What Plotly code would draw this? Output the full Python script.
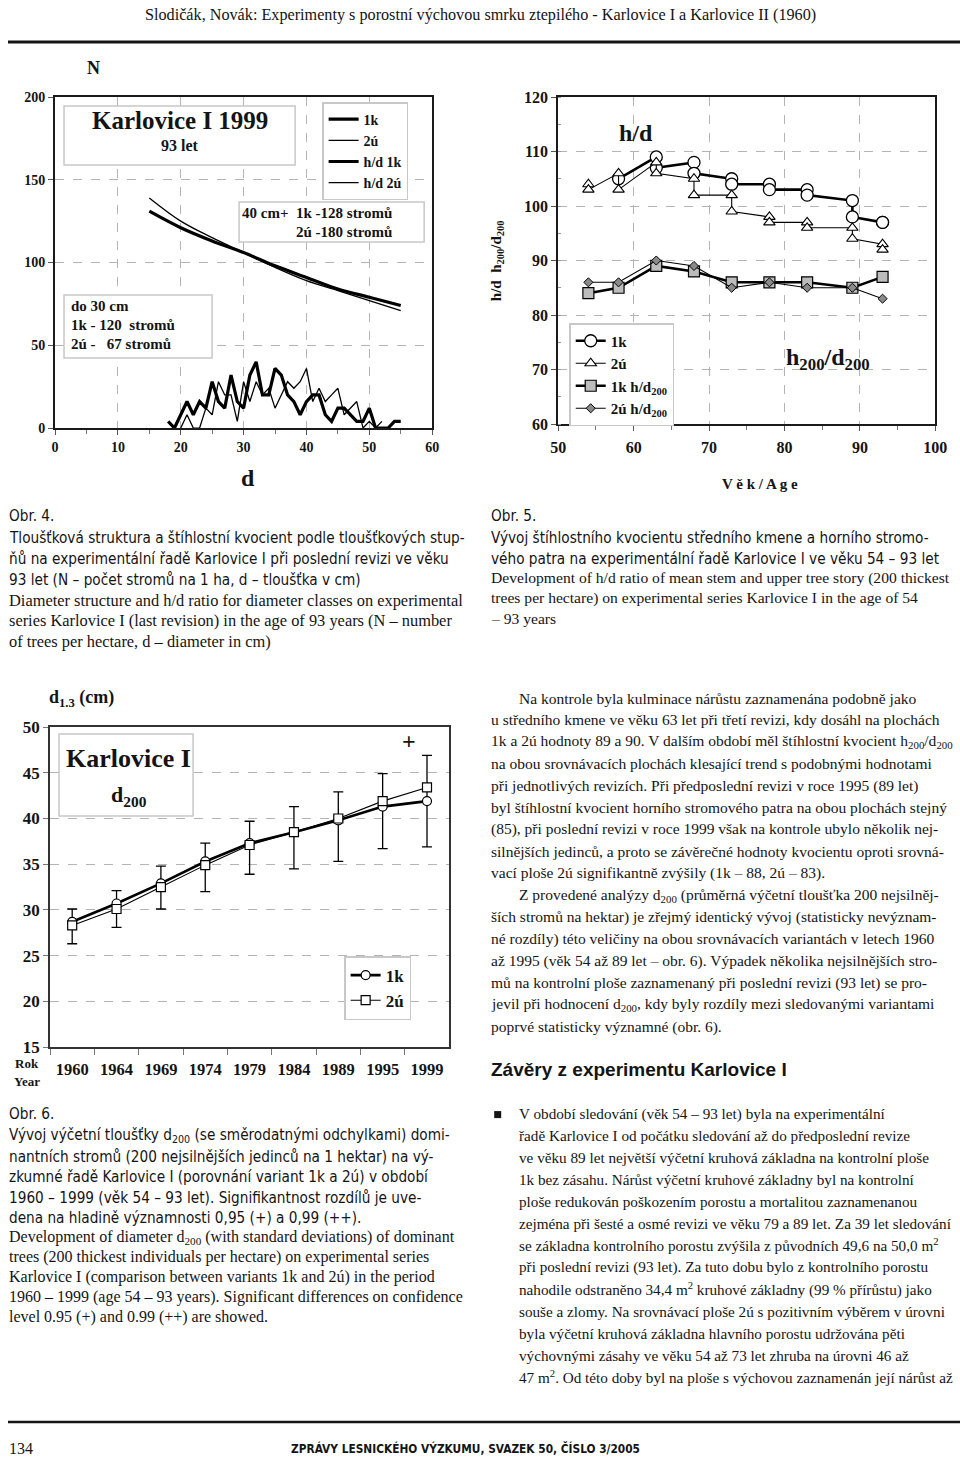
import plotly.graph_objects as go

# ---------------- DATA ----------------
# Chart 1 (Obr. 4): diameter distribution N and h/d curve, Karlovice I 1999
d_1k = list(range(18, 56))
n_1k = [4, 0, 8, 16, 8, 16, 12, 28, 16, 12, 32, 16, 12, 32, 40, 20, 20, 36, 32, 20,
        16, 8, 16, 20, 20, 8, 4, 12, 12, 8, 4, 4, 12, 0, 0, 0, 4, 4]
d_2u = list(range(20, 53))
n_2u = [0, 8, 0, 0, 12, 8, 28, 20, 20, 4, 28, 16, 28, 20, 24, 12, 20, 28, 24, 28,
        36, 16, 24, 16, 20, 24, 8, 12, 16, 0, 4, 0, 4]
d_hd = [15, 20, 25, 30, 35, 40, 45, 50, 55]
hd_1k = [131, 121, 113, 106, 98, 91, 84, 79, 74]
hd_2u = [139, 125, 115, 106, 97, 89, 83, 77, 71]

# Chart 2 (Obr. 5): h/d and h200/d200 by age
age_1k = [58, 63, 63, 68, 68, 73, 73, 78, 78, 83, 83, 89, 89, 93, 93]
hd_age_1k = [105, 109, 107, 108, 106, 105, 104, 104, 103, 103, 102, 101, 98, 97, 97]
age_2u = [54, 54, 58, 58, 63, 63, 68, 68, 73, 73, 78, 78, 83, 83, 89, 89, 93, 93]
hd_age_2u = [104, 103, 106, 103, 108, 106, 105, 102, 102, 99, 98, 97, 97, 96, 96, 94, 93, 92]
age_200 = [54, 58, 63, 68, 73, 78, 83, 89, 93]
hd200_1k = [84, 85, 89, 88, 86, 86, 86, 85, 87]
hd200_2u = [86, 86, 90, 89, 85, 86, 85, 85, 83]

# Chart 3 (Obr. 6): d200 development with standard deviations
years = ["1960", "1964", "1969", "1974", "1979", "1984", "1989", "1995", "1999"]
d200_1k = [28.7, 30.7, 32.9, 35.3, 37.3, 38.5, 39.8, 41.3, 41.9]
d200_2u = [28.3, 30.1, 32.5, 34.9, 37.1, 38.5, 40.0, 41.9, 43.4]
sd_top = [30.1, 32.1, 34.8, 37.3, 39.7, 41.3, 42.9, 44.9, 46.9]
sd_bottom = [26.3, 28.1, 30.1, 32.0, 33.9, 34.5, 35.3, 36.7, 36.9]

# ---------------- HELPERS ----------------
# The photographed page is offset by ~8 px and slightly reduced; target page
# pixel positions are mapped back to figure pixels here.
W, H = 970, 1470
OX, OY, SX, SY = 8, 8, 0.979, 0.987
SERIF = "Liberation Serif, Times New Roman, serif"
NARROW = "Liberation Sans Narrow, Arial Narrow, DejaVu Sans Condensed, Liberation Sans, sans-serif"
SANS = "Liberation Sans, Arial, sans-serif"
INK = "#141414"


def px(x):
    return max((x - OX) / SX, 0) / W


def py(y):
    return 1 - ((y - OY) / SY) / H


fig = go.Figure()


def txt(x, y, s, size, family=SERIF, bold=False, anchor="left", angle=0, color=INK):
    fig.add_annotation(x=px(x), y=py(y), xref="paper", yref="paper", text=s,
                       showarrow=False, xanchor=anchor, yanchor="middle",
                       textangle=angle, borderpad=0,
                       font=dict(family=family, size=size, color=color,
                                 weight="bold" if bold else "normal"))


def box(x0, y0, x1, y1, color="#c8c8c8", width=1.5):
    fig.add_shape(type="rect", xref="paper", yref="paper", x0=px(x0), x1=px(x1),
                  y0=py(y1), y1=py(y0), line=dict(color=color, width=width),
                  fillcolor="white", layer="above")


def hline(x0, x1, y, width):
    fig.add_shape(type="line", xref="paper", yref="paper", x0=px(x0), x1=px(x1),
                  y0=py(y), y1=py(y), line=dict(color=INK, width=width))


# ---------------- CHART 1 ----------------
fig.add_trace(go.Scatter(x=d_1k, y=n_1k, mode="lines", name="1k", legend="legend",
                         line=dict(color="black", width=3.2), xaxis="x", yaxis="y"))
fig.add_trace(go.Scatter(x=d_2u, y=n_2u, mode="lines", name="2ú", legend="legend",
                         line=dict(color="black", width=1.3), xaxis="x", yaxis="y"))
fig.add_trace(go.Scatter(x=d_hd, y=hd_1k, mode="lines", name="h/d 1k", legend="legend",
                         line=dict(color="black", width=3.2, shape="spline"),
                         xaxis="x", yaxis="y"))
fig.add_trace(go.Scatter(x=d_hd, y=hd_2u, mode="lines", name="h/d 2ú", legend="legend",
                         line=dict(color="black", width=1.3, shape="spline"),
                         xaxis="x", yaxis="y"))

# ---------------- CHART 2 ----------------
fig.add_trace(go.Scatter(x=age_1k, y=hd_age_1k, mode="lines+markers", name="1k",
                         legend="legend2", xaxis="x2", yaxis="y2",
                         line=dict(color="black", width=2.6),
                         marker=dict(symbol="circle", size=12, color="white",
                                     line=dict(color="black", width=1.3))))
fig.add_trace(go.Scatter(x=age_2u, y=hd_age_2u, mode="lines+markers", name="2ú",
                         legend="legend2", xaxis="x2", yaxis="y2",
                         line=dict(color="black", width=1.1),
                         marker=dict(symbol="triangle-up", size=10, color="white",
                                     line=dict(color="black", width=1.1))))
fig.add_trace(go.Scatter(x=age_200, y=hd200_1k, mode="lines+markers",
                         name="1k h/d<sub>200</sub>", legend="legend2",
                         xaxis="x2", yaxis="y2",
                         line=dict(color="black", width=2.6),
                         marker=dict(symbol="square", size=11, color="#bcbcbc",
                                     line=dict(color="black", width=1.2))))
fig.add_trace(go.Scatter(x=age_200, y=hd200_2u, mode="lines+markers",
                         name="2ú h/d<sub>200</sub>", legend="legend2",
                         xaxis="x2", yaxis="y2",
                         line=dict(color="black", width=1.1),
                         marker=dict(symbol="diamond", size=7, color="#8a8a8a",
                                     line=dict(color="black", width=1))))

# ---------------- CHART 3 ----------------
err_plus = [round(t - v, 2) for t, v in zip(sd_top, d200_1k)]
err_minus = [round(v - b, 2) for v, b in zip(d200_1k, sd_bottom)]
fig.add_trace(go.Scatter(x=years, y=d200_1k, mode="lines+markers", name="1k",
                         legend="legend3", xaxis="x3", yaxis="y3",
                         line=dict(color="black", width=2.6),
                         marker=dict(symbol="circle", size=9, color="white",
                                     line=dict(color="black", width=1.2)),
                         error_y=dict(type="data", symmetric=False, array=err_plus,
                                      arrayminus=err_minus, color="black",
                                      thickness=1.3, width=5)))
fig.add_trace(go.Scatter(x=years, y=d200_2u, mode="lines+markers", name="2ú",
                         legend="legend3", xaxis="x3", yaxis="y3",
                         line=dict(color="black", width=1.1),
                         marker=dict(symbol="square", size=9, color="white",
                                     line=dict(color="black", width=1.2))))

# ---------------- AXES ----------------
grid = dict(showgrid=True, gridcolor="#b4b4b4", griddash="dash", gridwidth=1)
frame = dict(showline=True, mirror=True, linecolor="#1a1a1a", linewidth=2,
             zeroline=False, ticks="outside", ticklen=5, tickcolor="#555")

fig.update_layout(
    xaxis=dict(domain=[px(55), px(432)], anchor="y", range=[0, 60], dtick=10,
               tickfont=dict(family=SERIF, size=14, weight="bold", color=INK),
               minor=dict(dtick=5, ticks="outside", ticklen=4, tickcolor="#777"),
               **grid, **frame),
    yaxis=dict(domain=[py(427), py(96)], anchor="x", range=[0, 200], dtick=50,
               tickfont=dict(family=SERIF, size=14, weight="bold", color=INK),
               **grid, **frame),
    xaxis2=dict(domain=[px(558), px(935)], anchor="y2", range=[50, 100], dtick=10,
                tickfont=dict(family=SERIF, size=16, weight="bold", color=INK),
                minor=dict(dtick=5, ticks="outside", ticklen=4, tickcolor="#777"),
                ticklabelstandoff=3, **grid, **frame),
    yaxis2=dict(domain=[py(423), py(96)], anchor="x2", range=[60, 120], dtick=10,
                tickfont=dict(family=SERIF, size=16, weight="bold", color=INK),
                minor=dict(dtick=5, ticks="inside", ticklen=3, tickcolor="#999"),
                **grid, **frame),
    xaxis3=dict(domain=[px(50), px(449)], anchor="y3", type="category",
                range=[-0.5, 8.5], tickson="boundaries", showgrid=False,
                showline=True, mirror=True, linecolor="#333", linewidth=1.6,
                ticks="outside", ticklen=6, tickcolor="#777", tickangle=0,
                ticklabelstandoff=6,
                tickfont=dict(family=SERIF, size=16.5, weight="bold", color=INK)),
    yaxis3=dict(domain=[py(1046), py(726)], anchor="x3", range=[15, 50], dtick=5,
                showgrid=True, gridcolor="#b4b4b4", griddash="dash",
                showline=True, mirror=True, linecolor="#333", linewidth=1.6,
                zeroline=False, ticks="outside", ticklen=5, tickcolor="#777",
                tickfont=dict(family=SERIF, size=17, weight="bold", color=INK)),
    legend=dict(x=px(322), y=py(101), xanchor="left", yanchor="top",
                bgcolor="white", bordercolor="#c8c8c8", borderwidth=1.5,
                font=dict(family=SERIF, size=14, weight="bold", color=INK),
                itemwidth=30),
    legend2=dict(x=px(569), y=py(322), xanchor="left", yanchor="top",
                 bgcolor="white", bordercolor="#c8c8c8", borderwidth=1.5,
                 font=dict(family=SERIF, size=15, weight="bold", color=INK)),
    legend3=dict(x=px(344), y=py(955), xanchor="left", yanchor="top",
                 bgcolor="white", bordercolor="#c8c8c8", borderwidth=1.5,
                 font=dict(family=SERIF, size=17, weight="bold", color=INK)),
    width=W, height=H, margin=dict(l=0, r=0, t=0, b=0),
    paper_bgcolor="white", plot_bgcolor="white", showlegend=True,
)

# ---------------- CHART DECORATIONS ----------------
# Chart 1
box(64, 105, 295, 164)
txt(180, 119, "Karlovice I 1999", 25, bold=True, anchor="center")
txt(180, 144, "93 let", 16, bold=True, anchor="center")
box(239, 201, 424, 241)
txt(241, 212, "40 cm+&nbsp;&nbsp;1k -128 stromů", 15, bold=True)
txt(295, 231, "2ú -180 stromů", 15, bold=True)
box(64, 294, 212, 357)
txt(70, 305, "do 30 cm", 15, bold=True)
txt(70, 324, "1k - 120&nbsp;&nbsp;stromů", 15, bold=True)
txt(70, 343, "2ú -&nbsp;&nbsp;&nbsp;67 stromů", 15, bold=True)
txt(93, 67, "N", 18, bold=True, anchor="center")
txt(248, 477, "d", 24, bold=True, anchor="center")

# Chart 2
txt(636, 132, "h/d", 24, bold=True, anchor="center")
txt(828, 358, "h<sub>200</sub>/d<sub>200</sub>", 24, bold=True, anchor="center")
txt(497, 260, "h/d&nbsp;&nbsp;h<sub>200</sub>/d<sub>200</sub>", 15, bold=True,
    anchor="center", angle=-90)
txt(760, 483, "V ě k / A g e", 15, bold=True, anchor="center")

# Chart 3
box(59, 733, 193, 815)
txt(128, 757, "Karlovice I", 26, bold=True, anchor="center")
txt(129, 795, "d<sub>200</sub>", 22, bold=True, anchor="center")
txt(409, 740, "+", 24, bold=True, anchor="center")
txt(48, 697, "d<sub>1.3</sub> (cm)", 18, bold=True)
txt(27, 1062, "Rok", 13, bold=True, anchor="center")
txt(27, 1080, "Year", 13, bold=True, anchor="center")

# ---------------- PAGE TEXT ----------------
txt(480, 14, "Slodičák, Novák: Experimenty s porostní výchovou smrku ztepilého - "
    "Karlovice I a Karlovice II (1960)", 16.2, anchor="center")
hline(0, 965, 41, 3)
hline(0, 965, 1421, 2.5)
txt(0, 1447, "134", 16)
txt(465, 1447, "ZPRÁVY LESNICKÉHO VÝZKUMU, SVAZEK 50, ČÍSLO 3/2005", 11.8,
    family=NARROW, bold=True, anchor="center")

CZ = 15.2

# Obr. 4 caption
txt(0, 515, "Obr. 4.", CZ, family=NARROW)
obr4_cz = ["Tloušťková struktura a štíhlostní kvocient podle tloušťkových stup-",
           "ňů na experimentální řadě Karlovice I při poslední revizi ve věku",
           "93 let (N – počet stromů na 1 ha, d – tloušťka v cm)"]
obr4_en = ["Diameter structure and h/d ratio for diameter classes on experimental",
           "series Karlovice I (last revision) in the age of 93 years (N – number",
           "of trees per hectare, d – diameter in cm)"]
for i, s in enumerate(obr4_cz):
    txt(0, 537 + 21 * i, s, CZ, family=NARROW)
for i, s in enumerate(obr4_en):
    txt(0, 599 + 20.5 * i, s, 16.4)

# Obr. 5 caption
txt(490, 515, "Obr. 5.", CZ, family=NARROW)
obr5_cz = ["Vývoj štíhlostního kvocientu středního kmene a horního stromo-",
           "vého patra na experimentální řadě Karlovice I ve věku 54 – 93 let"]
obr5_en = ["Development of h/d ratio of mean stem and upper tree story (200 thickest",
           "trees per hectare) on experimental series Karlovice I in the age of 54",
           "– 93 years"]
for i, s in enumerate(obr5_cz):
    txt(490, 537 + 21 * i, s, CZ, family=NARROW)
for i, s in enumerate(obr5_en):
    txt(490, 577 + 20 * i, s, 15.6)

# Right column body text
body = ["Na kontrole byla kulminace nárůstu zaznamenána podobně jako",
        "u středního kmene ve věku 63 let při třetí revizi, kdy dosáhl na plochách",
        "1k a 2ú hodnoty 89 a 90. V dalším období měl štíhlostní kvocient h<sub>200</sub>/d<sub>200</sub>",
        "na obou srovnávacích plochách klesající trend s podobnými hodnotami",
        "při jednotlivých revizích. Při předposlední revizi v roce 1995 (89 let)",
        "byl štíhlostní kvocient horního stromového patra na obou plochách stejný",
        "(85), při poslední revizi v roce 1999 však na kontrole ubylo několik nej-",
        "silnějších jedinců, a proto se závěrečné hodnoty kvocientu oproti srovná-",
        "vací ploše 2ú signifikantně zvýšily (1k – 88, 2ú – 83).",
        "Z provedené analýzy d<sub>200</sub> (průměrná výčetní tloušťka 200 nejsilněj-",
        "ších stromů na hektar) je zřejmý identický vývoj (statisticky nevýznam-",
        "né rozdíly) této veličiny na obou srovnávacích variantách v letech 1960",
        "až 1995 (věk 54 až 89 let – obr. 6). Výpadek několika nejsilnějších stro-",
        "mů na kontrolní ploše zaznamenaný při poslední revizi (93 let) se pro-",
        "jevil při hodnocení d<sub>200</sub>, kdy byly rozdíly mezi sledovanými variantami",
        "poprvé statisticky významné (obr. 6)."]
for i, s in enumerate(body):
    indent = 518 if i in (0, 9) else 490
    txt(indent, 697 + 21.9 * i, s, 15.5)

txt(490, 1068, "Závěry z experimentu Karlovice I", 19, family=SANS, bold=True)

# Bullet list
fig.add_shape(type="rect", xref="paper", yref="paper", x0=px(494), x1=px(501),
              y0=py(1117), y1=py(1110), fillcolor=INK, line=dict(width=0))
bullet = ["V období sledování (věk 54 – 93 let) byla na experimentální",
          "řadě Karlovice I od počátku sledování až do předposlední revize",
          "ve věku 89 let největší výčetní kruhová základna na kontrolní ploše",
          "1k bez zásahu. Nárůst výčetní kruhové základny byl na kontrolní",
          "ploše redukován poškozením porostu a mortalitou zaznamenanou",
          "zejména při šesté a osmé revizi ve věku 79 a 89 let. Za 39 let sledování",
          "se základna kontrolního porostu zvýšila z původních 49,6 na 50,0 m<sup>2</sup>",
          "při poslední revizi (93 let). Za tuto dobu bylo z kontrolního porostu",
          "nahodile odstraněno 34,4 m<sup>2</sup> kruhové základny (99 % přírůstu) jako",
          "souše a zlomy. Na srovnávací ploše 2ú s pozitivním výběrem v úrovni",
          "byla výčetní kruhová základna hlavního porostu udržována pěti",
          "výchovnými zásahy ve věku 54 až 73 let zhruba na úrovni 46 až",
          "47 m<sup>2</sup>. Od této doby byl na ploše s výchovou zaznamenán její nárůst až"]
for i, s in enumerate(bullet):
    txt(518, 1113 + 21.9 * i, s, 15.2)

# Obr. 6 caption
txt(0, 1113, "Obr. 6.", CZ, family=NARROW)
obr6_cz = ["Vývoj výčetní tloušťky d<sub>200</sub> (se směrodatnými odchylkami) domi-",
           "nantních stromů (200 nejsilnějších jedinců na 1 hektar) na vý-",
           "zkumné řadě Karlovice I (porovnání variant 1k a 2ú) v období",
           "1960 – 1999 (věk 54 – 93 let). Signifikantnost rozdílů je uve-",
           "dena na hladině významnosti 0,95 (+) a 0,99 (++)."]
obr6_en = ["Development of diameter d<sub>200</sub> (with standard deviations) of dominant",
           "trees (200 thickest individuals per hectare) on experimental series",
           "Karlovice I (comparison between variants 1k and 2ú) in the period",
           "1960 – 1999 (age 54 – 93 years). Significant differences on confidence",
           "level 0.95 (+) and 0.99 (++) are showed."]
for i, s in enumerate(obr6_cz):
    txt(0, 1135 + 20.5 * i, s, CZ, family=NARROW)
for i, s in enumerate(obr6_en):
    txt(0, 1236 + 20 * i, s, 16)

fig.write_html("out.html")
